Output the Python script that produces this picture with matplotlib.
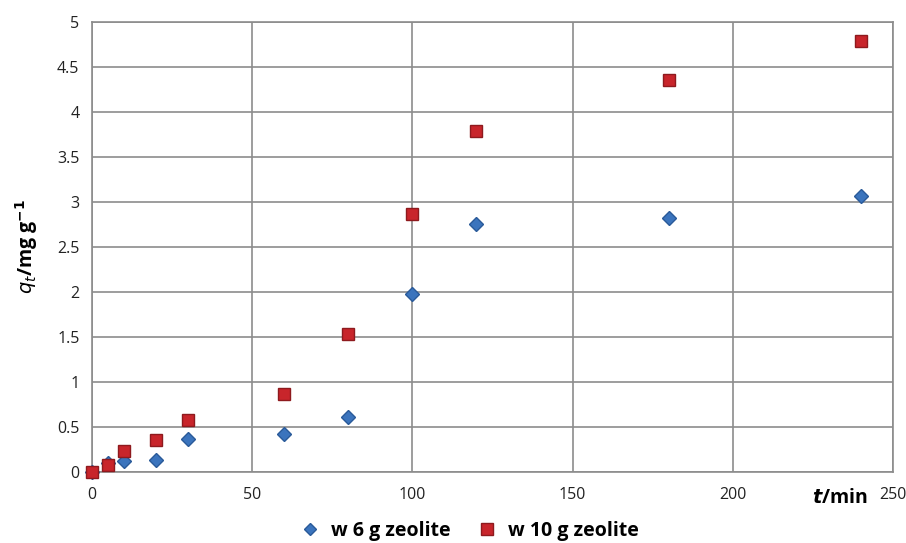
import matplotlib
matplotlib.use("Agg")
import matplotlib.pyplot as plt

plt.rcParams['font.family'] = ['Open Sans', 'DejaVu Sans']

# Datos
t_min = [0, 5, 10, 20, 30, 60, 80, 100, 120, 180, 240]
q_6g = [0, 0.10, 0.12, 0.13, 0.37, 0.42, 0.61, 1.98, 2.75, 2.82, 3.07]
q_10g = [0, 0.08, 0.23, 0.36, 0.58, 0.87, 1.53, 2.87, 3.79, 4.36, 4.79]
labels = ['w 6 g zeolite', 'w 10 g zeolite']

fig = plt.figure(figsize=(9.06, 5.43), dpi=100)
ax = fig.add_axes([0.1015, 0.1308, 0.8842, 0.8287])

ax.plot(t_min, q_6g, 'D', color='#3b74bd', markeredgecolor='#2a5a99',
        markersize=7, label=labels[0], clip_on=False, zorder=3)
ax.plot(t_min, q_10g, 's', color='#c8252b', markeredgecolor='#8e1a1e',
        markersize=9, label=labels[1], clip_on=False, zorder=3)

ax.set_xlim(0, 250)
ax.set_ylim(0, 5)
ax.set_xticks([0, 50, 100, 150, 200, 250])
ax.set_yticks([0, 0.5, 1, 1.5, 2, 2.5, 3, 3.5, 4, 4.5, 5])
ax.set_yticklabels(['0', '0.5', '1', '1.5', '2', '2.5', '3', '3.5', '4', '4.5', '5'])
ax.grid(True, color='#8c8c8c', linewidth=1.2)
ax.set_axisbelow(True)
for s in ax.spines.values():
    s.set_color('#8c8c8c')
    s.set_linewidth(1.2)
ax.tick_params(length=0, labelsize=11.5, colors='#222222')
ax.tick_params(axis='x', pad=11)
ax.tick_params(axis='y', pad=9)

ax.set_ylabel(r'$\boldsymbol{q_t}$/mg g$^{\mathbf{-1}}$', fontsize=14, fontweight='bold', labelpad=12)
fig.text(0.927, 0.083, r'$\boldsymbol{t}$/min', fontsize=14, fontweight='bold', ha='center', va='center')

fig.legend(loc='center', bbox_to_anchor=(0.513, 0.022), ncol=2, frameon=False,
           prop={'size': 14, 'weight': 'bold'}, handletextpad=0.05, columnspacing=0.9,
           markerscale=0.9)

fig.savefig('out.png', dpi=100)
